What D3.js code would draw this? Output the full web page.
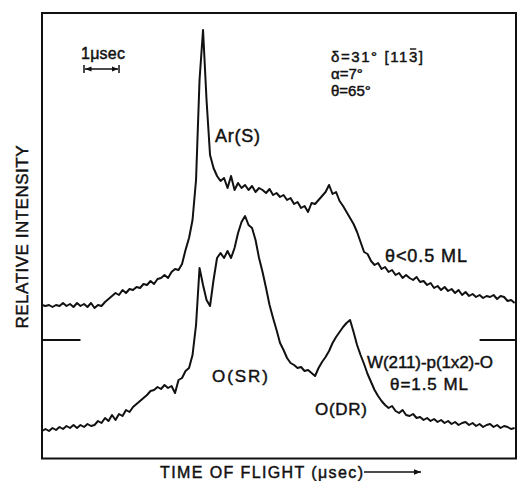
<!DOCTYPE html>
<html>
<head>
<meta charset="utf-8">
<script src="https://cdn.jsdelivr.net/npm/d3@7"></script>
<style>
  html, body { margin: 0; padding: 0; background: #fff; }
  svg text { font-family: "Liberation Sans", Arial, sans-serif; fill: #111; stroke: #111; stroke-width: 0.45px; }
</style>
</head>
<body>
<svg id="chart" width="518" height="481"></svg>
<script>
// Sampling times of the time-of-flight spectra (µs)
const time = [
  0.0,0.1,0.2,0.3,0.4,0.5,0.6,0.7,0.8,0.9,
  1.0,1.1,1.2,1.3,1.4,1.5,1.6,1.7,1.8,1.9,
  2.0,2.1,2.2,2.3,2.4,2.5,2.6,2.7,2.8,2.9,
  3.0,3.1,3.2,3.3,3.4,3.5,3.6,3.7,3.8,3.9,
  4.0,4.1,4.2,4.3,4.4,4.5,4.6,4.7,4.8,4.9,
  5.0,5.1,5.2,5.3,5.4,5.5,5.6,5.7,5.8,5.9,
  6.0,6.1,6.2,6.3,6.4,6.5,6.6,6.7,6.8,6.9,
  7.0,7.1,7.2,7.3,7.4,7.5,7.6,7.7,7.8,7.9,
  8.0,8.1,8.2,8.3,8.4,8.5,8.6,8.7,8.8,8.9,
  9.0,9.1,9.2,9.3,9.4,9.5,9.6,9.7,9.8,9.9,
  10.0,10.1,10.2,10.3,10.4,10.5,10.6,10.7,10.8,10.9,
  11.0,11.1,11.2,11.3,11.4,11.5,11.6,11.7,11.8,11.9,
  12.0,12.1,12.2,12.3,12.4,12.5,12.6,12.7,12.8,12.9,
  13.0,13.1,13.2,13.3,13.4,13.5
];

// Low-coverage spectrum (θ < 0.5 ML), relative intensity, offset upward
const lowCoverage = [
  154,153,154,152,154,153,156,153,155,152,
  156,153,155,152,156,151,154,153,157,160,
  163,166,164,169,166,170,169,172,171,175,
  174,178,175,180,181,184,181,187,190,189,
  195,209,221,239,279,379,429,359,304,291,
  283,278,281,271,283,269,276,271,274,269,
  273,267,271,269,266,270,264,266,262,264,
  259,261,255,257,251,253,247,256,255,259,
  263,267,274,265,267,258,253,247,241,235,
  227,217,207,205,198,194,196,190,192,187,
  189,184,186,181,184,181,179,182,177,178,
  174,176,171,173,169,172,168,170,166,169,
  164,167,163,165,162,164,161,163,162,164,
  160,163,162,158,159,156
];

// Oxygen-covered W(211)-p(1x2)-O spectrum (θ = 1.5 ML), relative intensity
const highCoverage = [
  28,30,28,31,29,32,30,33,31,34,
  31,34,32,35,33,34,38,36,41,38,
  44,39,45,43,49,47,52,55,58,61,
  64,68,69,72,70,74,71,73,66,79,
  81,88,91,104,134,191,174,159,153,179,
  201,206,201,208,201,211,226,237,243,234,
  231,219,201,187,171,154,141,129,116,109,
  101,96,94,91,92,88,89,86,83,91,
  97,102,108,116,122,127,132,136,139,127,
  114,104,95,85,77,69,63,58,54,51,
  53,48,46,49,44,43,45,41,42,39,
  41,38,40,37,39,36,38,35,37,34,
  36,37,34,36,33,35,32,34,35,32,
  34,31,33,32,30,31
];

// Zero level of the upper spectrum, marked at both edges
const offsetLevel = 119;
const offsetMarks = [[0, 1.1], [12.5, 13.54]];

// 1 µs scale bar
const scaleBar = [1.2, 2.2];

const parameters = ["δ=31°", "α=7°", "θ=65°"];

const svg = d3.select("#chart");
const frame = { left: 42, top: 13, right: 516, bottom: 458.5 };

const x = d3.scaleLinear().domain([0, 13.54]).range([frame.left, frame.right]);
const y = d3.scaleLinear().domain([0, 446]).range([459, 13]);

const line = d3.line()
  .x((d, i) => x(time[i]))
  .y(d => y(d))
  .curve(d3.curveLinear);

// Plot frame
svg.append("rect")
  .attr("x", frame.left).attr("y", frame.top)
  .attr("width", frame.right - frame.left)
  .attr("height", frame.bottom - frame.top)
  .attr("fill", "none").attr("stroke", "#111").attr("stroke-width", 2);

// Spectra
[lowCoverage, highCoverage].forEach(series => {
  svg.append("path")
    .datum(series)
    .attr("d", line)
    .attr("fill", "none")
    .attr("stroke", "#111")
    .attr("stroke-width", 2)
    .attr("stroke-linejoin", "round");
});

// Offset markers
offsetMarks.forEach(([a, b]) => {
  svg.append("line")
    .attr("x1", x(a)).attr("x2", x(b))
    .attr("y1", y(offsetLevel)).attr("y2", y(offsetLevel))
    .attr("stroke", "#111").attr("stroke-width", 1.8);
});

// Scale bar with arrows
const defs = svg.append("defs");
defs.append("marker")
  .attr("id", "tip").attr("viewBox", "0 0 10 10")
  .attr("refX", 10).attr("refY", 5)
  .attr("markerWidth", 5).attr("markerHeight", 5)
  .attr("orient", "auto-start-reverse")
  .append("path").attr("d", "M0,1 L10,5 L0,9 Z").attr("fill", "#111");

const barY = 69;
svg.append("line")
  .attr("x1", x(scaleBar[0]) + 1).attr("x2", x(scaleBar[1]) - 1)
  .attr("y1", barY).attr("y2", barY)
  .attr("stroke", "#111").attr("stroke-width", 1.3)
  .attr("marker-start", "url(#tip)").attr("marker-end", "url(#tip)");
scaleBar.forEach(t => {
  svg.append("line")
    .attr("x1", x(t)).attr("x2", x(t))
    .attr("y1", barY - 4).attr("y2", barY + 4)
    .attr("stroke", "#111").attr("stroke-width", 1.5);
});

function label(txt, px, py, size, len) {
  const t = svg.append("text")
    .attr("x", px).attr("y", py)
    .attr("font-size", size)
    .text(txt);
  if (len) t.attr("textLength", len).attr("lengthAdjust", "spacing");
  return t;
}

label("1μsec", 81, 59, 16, 44);

// Experimental parameters
const p0 = label(parameters[0] + " [11", 331, 62, 15, null);
p0.append("tspan").text("3");
p0.append("tspan").text("]");
p0.attr("textLength", 92).attr("lengthAdjust", "spacing");
{
  const node = p0.node();
  const idx = parameters[0].length + 4;
  const start = node.getStartPositionOfChar(idx);
  const end = node.getEndPositionOfChar(idx);
  svg.append("line")
    .attr("x1", start.x + 1).attr("x2", end.x - 1)
    .attr("y1", 49).attr("y2", 49)
    .attr("stroke", "#111").attr("stroke-width", 1.4);
}
label(parameters[1], 331, 79, 15, null);
label(parameters[2], 331, 96, 15, null);

// Peak and curve annotations
label("Ar(S)", 215, 142, 18, 45);
label("θ<0.5 ML", 385, 262, 18, 82);
label("O(SR)", 212, 382, 17, 56);
label("O(DR)", 315, 415, 17, 52);
label("W(211)-p(1x2)-O", 367, 368, 17, 126);
label("θ=1.5 ML", 390, 390, 17, 78);

// Axis titles
svg.append("text")
  .attr("transform", "translate(28,237) rotate(-90)")
  .attr("text-anchor", "middle")
  .attr("font-size", 17)
  .attr("textLength", 183).attr("lengthAdjust", "spacing")
  .text("RELATIVE INTENSITY");

label("TIME OF FLIGHT (μsec)", 160, 478, 16, 203);
svg.append("line")
  .attr("x1", 364).attr("x2", 421)
  .attr("y1", 472).attr("y2", 472)
  .attr("stroke", "#111").attr("stroke-width", 1.5)
  .attr("marker-end", "url(#tip)");
</script>
</body>
</html>
